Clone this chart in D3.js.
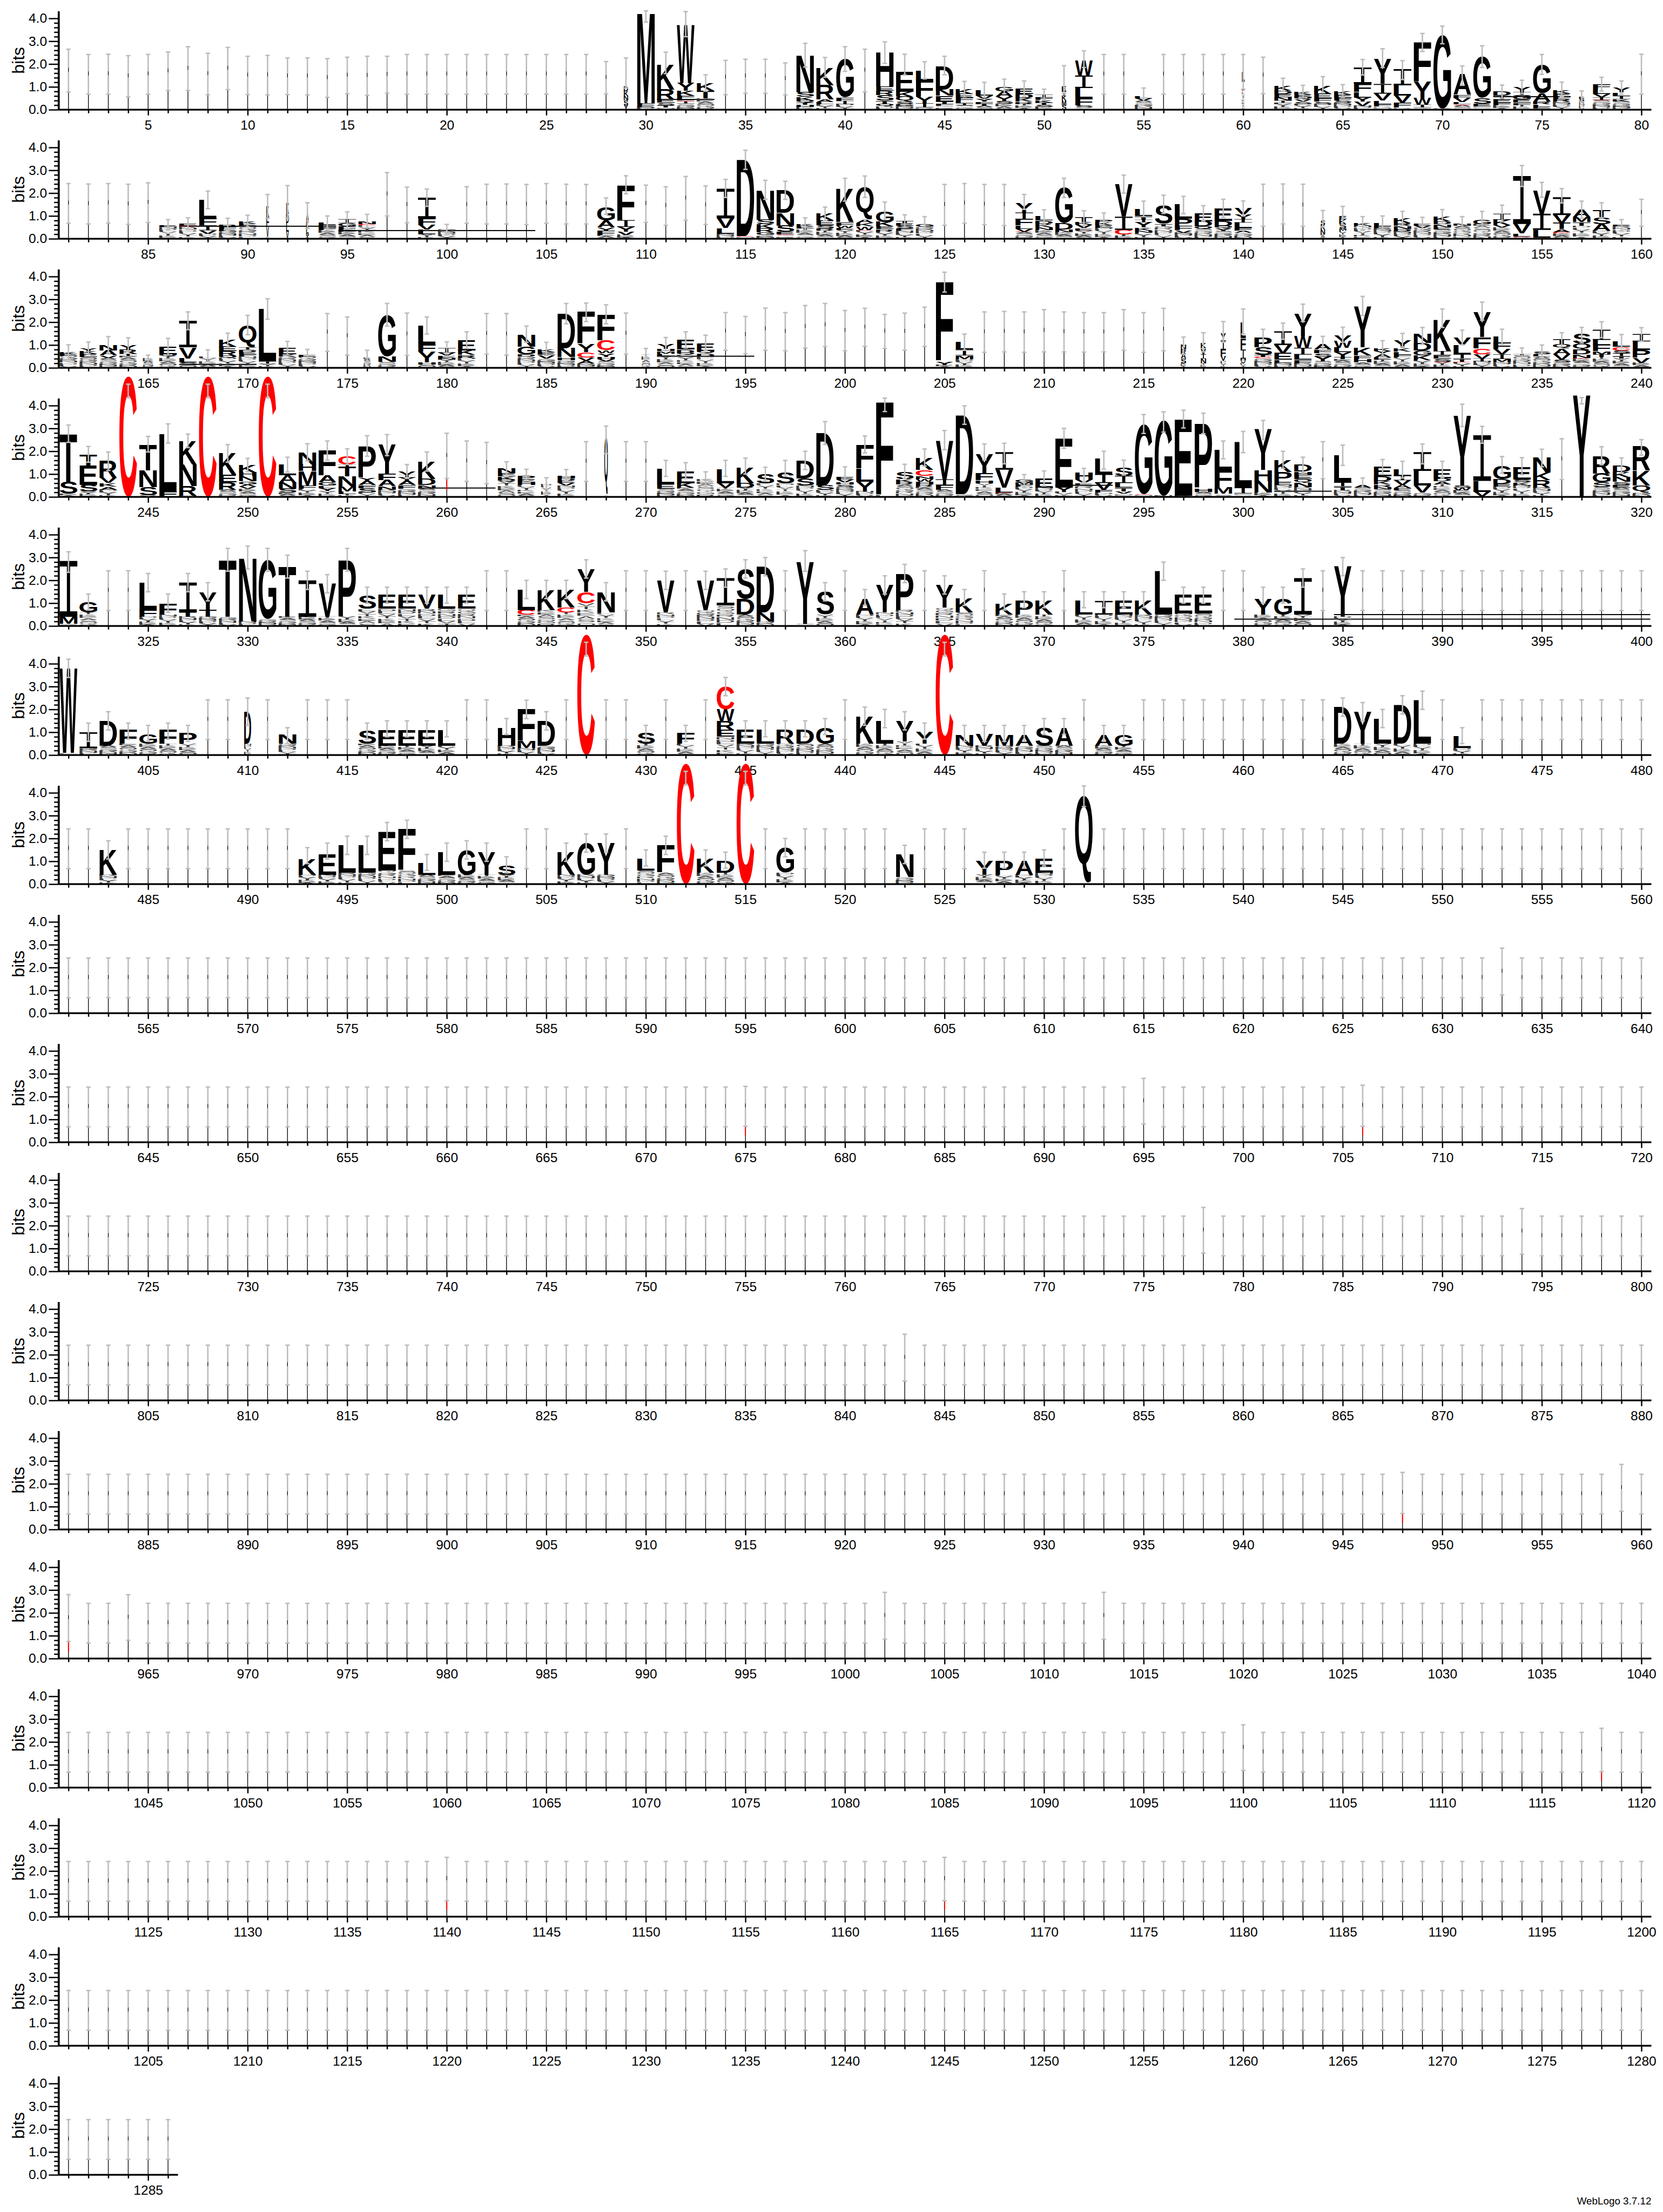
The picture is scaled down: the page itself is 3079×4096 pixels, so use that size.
<!DOCTYPE html>
<html>
<head>
<meta charset="utf-8">
<script src="https://cdn.jsdelivr.net/npm/d3@7"></script>
<style>
  body { margin: 0; background: #fff; }
</style>
</head>
<body>
<div id="logo"></div>
<script>
// ---- data: one string per stack, "pos errLow errHigh letters(top->bottom)"
// letter tokens: X<bits>, "~<bits>" = pile of unreadable tiny letters, "w<frac>" = narrow stack
const row1 = [
  "29 .95 2.27 w.25 D.2 K.2 N.2 S.2 Y.2",
  "30 3.84 4.33 M3.97 F.1 E.08 ~.11",
  "31 1.58 2.52 K1.09 R.44 E.15 S.1 T.1 ~.1",
  "32 3.2 4.3 W2.55 Y.35 K.2 F.12 L.1 C.03 I.1 ~.27",
  "33 .81 1.53 K.32 T.34 ~.5",
  "38 1.87 2.91 N1.63 S.2 K.15 Q.1 T.1 H.08 ~.13",
  "39 1.42 2.29 K.77 R.62 A.12 L.1 ~.23",
  "40 1.68 2.76 G1.68 F.15 I.15 ~.24",
  "42 2.03 2.97 H1.49 E.19 R.18 S.24 T.16 Q.1 ~.14",
  "43 1.52 2.43 E.87 K.2 Q.22 S.1 G.08 ~.18",
  "44 1.35 2.1 L.42 F.74 Y.26 I.19 ~.1",
  "45 1.53 2.34 D1.03 N.26 E.25 T.1 F.1 ~.16",
  "46 .56 1.24 K.2 E.17 F.15 L.1 I.08 ~.2",
  "47 .54 1.2 L.25 V.15 Y.12 F.1 T.08 ~.17",
  "48 .7 1.34 G.19 A.23 Y.19 S.13 ~.26",
  "49 .58 1.26 E.23 D.18 K.15 R.1 ~.25",
  "50 .42 .9 I.12 F.12 K.1 T.1 S.1 ~.12",
  "51 .72 1.93 w.25 E.2 I.2 K.2 M.2 S.2",
  "52 1.85 2.58 W.65 I.55 L.45 F.3 S.1 ~.1",
  "55 .35 .95 L.1 V.1 ~.4",
  "60 .9 2.42 w.15 L.4 I.4 C.06 ~.8",
  "62 .81 1.38 K.22 D.15 E.14 N.15 I.1 ~.3",
  "63 .52 1.07 K.12 E.12 Q.1 V.1 S.1 ~.25",
  "64 .76 1.45 K.37 E.2 F.15 S.1 ~.25",
  "65 .55 1.1 K.15 E.15 F.12 S.1 ~.3",
  "66 1.52 2.2 I.71 F.36 L.25 Y.18 V.17 ~.18",
  "67 1.85 2.67 Y1.1 I.43 V.3 L.15 F.1 ~.15",
  "68 1.32 2.15 I.71 L.45 V.32 F.2 ~.1",
  "69 2.55 3.34 F1.71 Y.72 W.29 I.12 ~.1",
  "70 2.89 3.66 G3.2 ~.06",
  "71 1.07 1.92 A.93 F.15 V.18 L.1 C.03 ~.2",
  "72 1.85 2.8 G1.81 S.25 E.12 ~.15",
  "73 .5 1.08 D.17 I.16 E.15 F.12 ~.18",
  "74 .69 1.29 Y.2 I.15 G.18 E.15 F.1 ~.2",
  "75 1.55 2.42 G1.25 A.36 R.13 L.1 E.08 ~.05",
  "76 .58 1.21 K.16 E.15 F.1 R.12 ~.35",
  "77 .35 .82 w.3 E.1 S.1 ~.38",
  "78 .82 1.42 F.2 L.2 V.15 I.12 C.03 ~.4",
  "79 .68 1.26 Y.2 L.15 I.13 K.1 ~.37"
];
const row2 = [
  "86 .39 .84 E.06 ~.52",
  "87 .42 .92 E.08 C.03 ~.55",
  "88 1.32 2.09 L.81 F.3 I.22 V.15 ~.22",
  "89 .36 .9 R.1 F.1 E.1 ~.33",
  "90 .52 1.03 K.1 E.1 ~.57",
  "91 .9 1.94 w.15 K.45 F.45 V.45 ~.07",
  "92 .9 2.33 w.15 K.5 D.4 L.4 V.3",
  "93 .45 1.58 w.15 A.3 C.05 K.3 L.2 N.1 T.1 Y.05",
  "94 .45 1.0 L.1 E.15 F.1 ~.37",
  "95 .45 1.18 I.16 G.15 F.15 E.1 ~.3",
  "96 .48 1.07 N.13 C.05 ~.6",
  "99 1.42 2.18 I.9 F.3 V.2 L.2 ~.2",
  "100 .19 .63 ~.4",
  "108 1.07 1.79 G.6 A.3 Y.16 F.18 ~.16",
  "109 1.97 2.76 F1.55 I.3 Y.2 V.15 ~.17",
  "114 1.81 2.6 I1.3 V.42 L.25 ~.22",
  "115 3.04 3.88 D3.33 C.03 ~.1",
  "116 1.73 2.56 N1.29 S.2 K.18 R.18 G.12 ~.16",
  "117 1.73 2.52 D1.0 N.55 S.27 E.12 C.03 ~.16",
  "118 .34 .92 K.1 E.1 ~.45",
  "119 .78 1.39 K.3 E.22 S.15 R.1 ~.35",
  "120 1.65 2.65 K1.47 F.15 W.1 E.1 ~.38",
  "121 1.81 2.75 Q1.42 A.15 K.15 W.15 C.03 ~.36",
  "122 .84 1.61 G.46 K.2 E.12 R.1 ~.32",
  "123 .52 1.05 T.1 E.12 S.12 F.1 ~.35",
  "124 .32 .97 G.13 ~.52",
  "129 1.29 1.94 Y.42 I.3 F.26 L.15 V.12 C.02 ~.3",
  "130 .61 1.27 L.19 D.15 K.14 N.13 ~.38",
  "131 1.81 2.65 G1.55 D.27 N.12 ~.29",
  "132 .58 1.23 T.2 K.12 V.15 E.1 C.02 ~.35",
  "133 .53 1.13 P.13 K.12 E.12 ~.48",
  "134 2.0 2.79 V1.42 I.58 C.2 ~.19",
  "135 .97 1.65 L.3 T.15 I.12 Y.23 K.13 N.1 ~.26",
  "136 1.11 1.91 S.8 T.1 ~.55",
  "137 1.1 1.86 L.62 P.33 F.17 V.1 ~.27",
  "138 .78 1.45 E.35 D.23 Q.1 ~.44",
  "139 .94 1.73 E.54 D.23 Q.1 Y.12 ~.33",
  "140 1.0 1.66 V.26 Y.2 I.15 L.23 F.12 A.1 ~.26",
  "144 .52 1.24 w.25 S.2 K.2 N.2 ~.2",
  "145 .61 1.42 w.4 E.15 K.2 S.2 M.1 ~.35",
  "146 .39 .97 K.11 ~.57",
  "147 .42 1.0 L.14 E.1 ~.45",
  "148 .58 1.2 K.2 R.13 N.13 D.1 ~.34",
  "149 .42 .94 E.1 V.1 ~.48",
  "150 .65 1.28 K.2 D.13 N.13 E.1 ~.41",
  "151 .42 .97 N.1 ~.58",
  "152 .52 1.2 G.19 ~.65",
  "153 .74 1.47 I.27 K.23 V.1 ~.5",
  "154 2.29 3.21 I2.1 V.42 L.12 C.03 ~.08",
  "155 1.82 2.47 V1.03 I.71 L.33 ~.06",
  "156 1.57 2.2 I.78 V.36 T.26 A.13 C.06 ~.23",
  "157 .9 1.65 A.32 M.22 T.16 ~.57",
  "158 .92 1.58 T.29 S.29 A.29 ~.36",
  "159 .34 .84 E.06 ~.55"
];
const row3 = [
  "161 .34 1.01 K.08 E.08 ~.52",
  "162 .58 1.13 Y.13 K.12 E.15 ~.47",
  "163 .64 1.37 N.24 A.23 V.1 ~.44",
  "164 .72 1.32 Y.19 R.19 I.1 ~.52",
  "165 .19 .56 w.6 ~.4",
  "166 .57 1.29 E.33 Q.1 ~.5",
  "167 1.67 2.45 I1.16 V.49 L.17 S.1 ~.14",
  "168 .28 .79 ~.5",
  "169 .9 1.52 K.29 E.2 R.2 Q.1 ~.43",
  "170 1.45 2.3 Q.93 I.1 D.1 E.1 F.1 ~.5",
  "171 2.13 3.03 L2.3 I.1 ~.18",
  "172 .57 1.16 E.26 K.1 ~.5",
  "173 .34 .81 E.1 ~.47",
  "176 .22 .77 w.4 ~.45",
  "177 1.83 2.82 G1.81 N.25 ~.26",
  "179 1.48 2.23 L.8 F.3 Y.47 H.1 ~.14",
  "180 .61 1.14 I.2 V.13 E.1 N.07 ~.37",
  "181 .85 1.58 E.45 K.2 R.13 ~.44",
  "184 1.12 1.83 N.52 G.33 D.1 ~.5",
  "185 .54 1.12 K.13 E.13 V.16 ~.41",
  "186 1.93 2.82 D1.52 N.39 H.13 ~.34",
  "187 2.03 2.84 F1.42 Y.35 C.23 V.15 A.12 ~.19",
  "188 1.93 2.76 F1.13 C.42 W.13 Y.16 H.1 V.1 ~.28",
  "190 .38 .85 w.5 ~.6",
  "191 .75 1.33 Y.2 H.1 M.1 L.1 ~.53",
  "192 .87 1.58 E.42 D.13 Q.1 ~.57",
  "193 .75 1.43 E.32 Q.1 D.13 ~.51",
  "205 3.32 4.19 F3.46 Y.15 ~.13",
  "206 .77 1.48 L.32 I.26 M.16 ~.38",
  "217 .6 1.35 w.3 N.2 R.2 A.2 S.2 ~.2",
  "218 .7 1.54 w.3 K.25 V.25 I.2 N.2 ~.2",
  "219 1.12 2.03 w.3 Y.3 I.4 F.3 V.2 ~.3",
  "220 1.48 2.58 w.3 L.7 F.5 I.4 H.1 V.1 ~.2",
  "221 .94 1.69 P.42 S.33 T.1 C.05 ~.42",
  "222 1.25 1.96 I.6 V.36 E.29 L.13 ~.22",
  "223 2.03 2.79 Y1.0 W.5 I.3 L.23 F.15 ~.2",
  "224 .74 1.38 A.23 F.16 S.16 Y.2 ~.28",
  "225 1.12 1.78 V.25 W.3 L.2 Y.2 T.1 ~.38",
  "226 2.29 3.13 Y1.8 K.35 F.16 H.16 ~.23",
  "227 .62 1.19 K.13 Y.13 A.16 E.1 ~.35",
  "228 .92 1.51 Y.32 K.16 L.13 F.1 ~.48",
  "229 1.03 1.77 N.39 D.32 G.23 K.2 ~.34",
  "230 1.77 2.58 K1.39 I.18 E.16 S.13 C.03 ~.24",
  "231 1.01 1.65 V.32 L.4 I.2 T.13 C.03 ~.24",
  "232 2.09 2.88 Y1.1 F.5 C.26 V.18 I.12 ~.29",
  "233 1.03 1.69 L.3 F.26 V.23 I.2 M.13 ~.26",
  "234 .34 .87 I.06 ~.55",
  "235 .48 1.0 S.13 L.1 ~.5",
  "236 .93 1.54 T.2 Q.2 A.25 V.25 S.12 ~.23",
  "237 1.09 1.77 S.42 Q.26 D.2 N.16 C.03 ~.41",
  "238 1.32 2.02 I.45 L.23 F.26 M.13 T.13 ~.47",
  "239 .87 1.46 L.23 C.16 S.13 I.13 T.1 ~.41",
  "240 1.16 1.76 I.32 L.38 P.34 V.22 ~.22"
];
const row4 = [
  "241 2.39 3.15 T2.13 S.52 ~.13",
  "242 1.52 2.21 T.5 E.84 S.3 ~.23",
  "243 1.16 1.97 R.74 V.23 K.16 A.13 ~.32",
  "244 4.34 4.94 C5.28",
  "245 1.97 2.65 T1.13 N.74 S.36 ~.06",
  "246 2.36 3.2 L2.52 F.25",
  "247 2.16 2.75 K1.03 N.94 R.42 ~.06",
  "248 4.34 4.94 C5.28",
  "249 1.52 2.29 K.96 E.33 R.32 ~.32",
  "250 1.1 1.69 K.32 H.17 N.22 G.13 A.1 V.1 ~.35",
  "251 4.34 4.94 C5.28",
  "252 1.09 1.74 L.48 A.32 N.26 S.18 ~.18",
  "253 1.58 2.33 N.52 H.29 M.62 F.16 ~.35",
  "254 1.61 2.45 F1.09 A.29 G.16 L.1 Y.13 ~.26",
  "255 1.42 2.11 C.36 I.1 T.42 N.45 M.2 L.13 ~.12",
  "256 1.78 2.68 P1.39 Y.13 A.19 F.13 S.19 ~.2",
  "257 1.81 2.73 Y1.29 F.26 A.26 N.16 ~.32",
  "258 .81 1.42 V.16 I.1 Y.16 A.19 F.16 ~.36",
  "259 1.13 1.97 K.77 D.26 N.13 ~.39",
  "263 .9 1.54 N.2 E.14 K.13 Q.1 ~.67",
  "264 .71 1.21 P.16 E.14 H.12 ~.52",
  "265 .32 .84 w.6 ~.58",
  "266 .71 1.2 H.13 D.1 E.1 V.12 ~.49",
  "268 1.9 3.1 w.2 Q2.5 ~.1",
  "271 .9 1.6 L.7 E.2 ~.35",
  "272 .8 1.5 E.5 K.2 ~.4",
  "273 .5 1.1 ~.8",
  "274 .9 1.6 L.6 V.2 ~.4",
  "275 1.0 1.7 K.7 D.2 ~.4",
  "276 .7 1.3 S.4 ~.6",
  "277 .9 1.6 S.5 ~.6",
  "278 1.2 2.0 D.8 S.3 ~.5",
  "279 2.3 3.3 D2.3 S.2 ~.3",
  "280 .57 1.32 E.13 V.13 H.1 S.1 ~.44",
  "281 1.93 2.67 F1.05 L.57 Y.42 ~.25",
  "282 3.74 4.33 F4.1 ~.06",
  "283 .8 1.43 S.32 K.13 R.1 ~.54",
  "284 1.35 2.1 K.52 C.26 N.13 W.12 H.12 R.1 ~.45",
  "285 2.07 2.91 V1.71 I.25 F.2 ~.32",
  "286 3.18 3.99 D3.46 ~.12",
  "287 1.62 2.32 Y.84 F.3 H.13 ~.6",
  "288 1.45 2.35 I.77 V.78 L.21 C.02 ~.18",
  "289 .41 .98 G.12 M.1 F.1 ~.45",
  "290 .48 1.14 E.39 ~.41",
  "291 2.13 3.0 E2.14 Y.2 ~.21",
  "292 .64 1.25 H.29 V.16 E.1 ~.51",
  "293 1.22 2.0 L.68 I.39 V.29 F.13 ~.19",
  "294 .96 1.61 S.36 I.32 L.2 T.16 V.1 ~.15",
  "295 2.78 3.61 G3.07 C.02 ~.1",
  "296 2.84 3.73 G3.29 ~.06",
  "297 3.02 3.8 E3.33 ~.06",
  "298 2.77 3.67 P2.84 H.16 ~.22",
  "299 1.67 2.45 L.87 F.78 M.26 ~.15",
  "300 1.94 2.87 L2.01 I.26 ~.15",
  "301 2.51 3.35 Y1.79 H.49 N.51 ~.19",
  "302 1.25 2.0 K.53 P.42 E.15 ~.52",
  "303 1.06 1.74 D.29 H.16 E.17 Q.16 N.19 ~.44",
  "305 1.38 2.27 L1.19 I.19 T.16 ~.29",
  "306 .25 .83 A.13 ~.41",
  "307 .99 1.64 E.42 D.2 K.16 R.1 N.1 ~.34",
  "308 .83 1.56 L.26 I.2 V.2 A.15 F.1 ~.28",
  "309 1.45 2.32 I.82 L.64 V.3 ~.2",
  "310 .83 1.56 E.39 D.12 A.13 ~.55",
  "311 3.08 4.06 Y3.05 S.1 W.12 ~.29",
  "312 2.35 3.09 I2.0 L.48 V.2 ~.02",
  "313 1.04 1.77 G.58 D.2 E.12 ~.45",
  "314 .98 1.72 E.55 S.13 K.13 ~.51",
  "315 1.32 2.09 N.68 K.33 R.32 ~.41",
  "317 4.08 4.35 Y4.45",
  "318 1.41 2.2 R.77 G.39 S.22 ~.42",
  "319 1.03 1.71 D.26 K.23 N.2 S.13 E.13 ~.4",
  "320 1.83 2.51 R1.06 K.65 Q.32 ~.19"
];
const row5 = [
  "321 2.35 3.25 I2.45 M.3 ~.1", "322 .7 1.4 G.45 ~.6", "325 1.5 2.3 L1.2 F.3 ~.4",
  "326 .6 1.4 F.5 ~.5", "327 1.5 2.3 I1.3 T.2 ~.4", "328 1.1 1.9 Y.8 T.3 ~.4",
  "329 2.4 3.4 T2.5 ~.4", "330 2.5 3.5 N2.8 ~.2", "331 2.4 3.4 G2.6 ~.3",
  "332 2.1 3.1 T2.2 ~.4", "333 1.6 2.4 I1.6 ~.4", "334 1.45 2.25 V1.45 ~.4",
  "335 2.4 3.4 P2.5 ~.4", "336 1.0 1.7 S.6 ~.75", "337 1.0 1.7 E.6 ~.75",
  "338 1.0 1.7 E.6 ~.75", "339 1.0 1.7 V.6 ~.75", "340 1.0 1.7 L.6 ~.75",
  "341 1.0 1.7 E.6 ~.75", "344 1.2 2.0 L.9 C.2 ~.5", "345 1.2 2.0 K.9 ~.7",
  "346 1.2 2.0 K.8 C.2 ~.6", "347 2.1 2.9 Y1.0 C.5 ~1.0", "348 1.1 1.9 N.9 ~.6",
  "351 1.6 2.4 V1.4 ~.6", "353 1.6 2.4 V1.3 ~.7", "354 1.7 2.5 I1.2 ~.9",
  "355 2.1 2.9 S1.3 D.7 ~.5", "356 2.2 3.0 D2.0 N.4 ~.2", "358 2.4 3.3 Y2.7 ~.1",
  "359 1.1 1.9 S1.0 ~.5", "361 .9 1.6 A.7 ~.5", "362 1.4 2.2 Y1.2 ~.6",
  "363 1.9 2.7 P1.6 ~.7", "365 1.4 2.2 Y1.0 ~.8", "366 .9 1.6 K.6 ~.6",
  "368 .7 1.4 K.5 ~.5", "369 .8 1.5 P.6 ~.5", "370 .8 1.5 K.6 ~.5",
  "372 .8 1.5 L.6 ~.5", "373 .8 1.5 I.6 ~.5", "374 .8 1.5 E.6 ~.5",
  "375 .8 1.5 K.6 ~.5", "376 2.0 2.8 L1.9 ~.5", "377 1.0 1.7 E.8 ~.55",
  "378 1.0 1.7 E.8 ~.55", "381 1.0 1.7 Y.7 ~.5", "382 1.0 1.7 G.7 ~.5",
  "383 1.7 2.5 I1.6 ~.5", "385 2.2 3.0 Y2.2 ~.4"
];
const row6 = [
  "401 3.4 4.2 W3.7 ~.1", "402 .6 1.4 I.7 ~.3", "403 1.1 1.9 D1.1 ~.4",
  "404 .7 1.4 F.6 ~.5", "405 .6 1.3 G.4 ~.5", "406 .7 1.4 F.6 ~.5",
  "407 .6 1.3 P.5 ~.5", "410 1.3 2.5 w.4 D1.4 ~.5", "412 .5 1.2 N.4 ~.5",
  "416 .7 1.4 S.6 ~.5", "417 .8 1.5 E.7 ~.4", "418 .8 1.5 E.7 ~.4",
  "419 .8 1.5 E.7 ~.4", "420 .8 1.5 L.7 ~.4", "423 .9 1.6 H.8 ~.4",
  "424 1.6 2.4 F1.4 M.3 ~.3", "425 1.1 1.9 D1.1 ~.4", "427 4.34 4.94 C5.28",
  "430 .6 1.3 S.5 ~.5", "432 .6 1.3 F.5 ~.5", "434 2.6 3.4 C1.0 W.5 R.4 E.3 ~.8",
  "435 .8 1.5 E.6 ~.5", "436 .8 1.5 L.6 ~.5", "437 .8 1.5 R.6 ~.5",
  "438 .8 1.5 D.6 ~.5", "439 .9 1.6 G.7 ~.5", "441 1.3 2.1 K1.2 ~.5",
  "442 1.2 2.0 L1.0 ~.5", "443 1.1 1.9 Y.9 ~.6", "444 .7 1.4 Y.5 ~.5",
  "445 4.34 4.94 C5.28", "446 .6 1.3 N.5 ~.4", "447 .6 1.3 V.5 ~.4",
  "448 .6 1.3 M.5 ~.4", "449 .6 1.3 A.5 ~.4", "450 .9 1.6 S.8 ~.4",
  "451 .9 1.6 A.8 ~.4", "453 .6 1.3 A.5 ~.4", "454 .6 1.3 G.5 ~.4",
  "465 1.7 2.5 D1.6 ~.5", "466 1.5 2.3 Y1.4 ~.5", "467 1.2 2.0 L1.1 ~.5",
  "468 1.8 2.6 D1.7 ~.5", "469 2.0 2.8 L1.9 ~.5", "471 .5 1.2 L.5 ~.3"
];
const row7 = [
  "483 1.1 1.9 K1.1 ~.4", "493 .9 1.6 K.7 ~.4", "494 1.1 1.8 E.9 ~.4",
  "495 1.3 2.1 L1.2 ~.5", "496 1.3 2.1 L1.2 ~.5", "497 1.9 2.7 E1.7 ~.6",
  "498 2.0 2.8 F1.8 ~.6", "499 .6 1.3 L.5 ~.4", "500 1.0 1.8 L1.0 ~.4",
  "501 1.1 1.9 G1.1 ~.4", "502 1.0 1.8 Y1.0 ~.4", "503 .5 1.2 S.4 ~.4",
  "506 1.0 1.8 K1.0 ~.4", "507 1.4 2.2 G1.4 ~.4", "508 1.4 2.2 Y1.4 ~.4",
  "510 .8 1.5 L.5 ~.6", "511 1.3 2.1 F1.2 ~.5", "512 4.34 4.94 C5.28",
  "513 .8 1.5 K.6 ~.5", "514 .7 1.4 D.5 ~.5", "515 4.34 4.94 C5.28",
  "517 1.2 2.0 G1.1 ~.5", "523 .9 1.7 N1.0 ~.3", "527 .7 1.4 Y.6 ~.4",
  "528 .7 1.4 P.6 ~.4", "529 .7 1.4 A.6 ~.4", "530 .8 1.5 E.6 ~.5",
  "532 3.4 4.3 Q3.8 ~.05"
];
// error bars of the gap-dominated (thin) columns, "pos low high [r = red sliver]"
const gapBars = [
  "1 .78 2.65", "2 .68 2.42", "3 .68 2.43", "4 .56 2.37", "5 .68 2.42", "6 .84 2.53",
  "7 .84 2.76", "8 .66 2.47", "9 .88 2.73", "10 .66 2.34", "11 .65 2.38", "12 .66 2.27",
  "13 .65 2.27", "14 .54 2.24", "15 .7 2.3", "16 .63 2.34", "17 .73 2.34", "28 .69 2.11",
  "34 .66 2.16", "35 .72 2.21", "36 .72 2.21", "37 .65 2.05", "41 .78 2.65", "61 .7 2.3",
  "80 .68 2.43", "81 .68 2.42", "82 .65 2.4", "83 .69 2.42", "84 .63 2.39", "85 .71 2.45",
  "97 1.0 2.9", "98 .7 2.26", "101 .68 2.28", "102 .65 2.39", "103 .65 2.4", "104 .62 2.38",
  "105 .68 2.42", "106 .65 2.39", "107 .65 2.38", "110 .72 2.35", "111 .59 2.28",
  "112 .81 2.73", "113 .63 2.32", "125 .59 2.38", "126 .68 2.42", "127 .62 2.38",
  "128 .58 2.38", "141 .55 2.39", "142 .65 2.4", "143 .55 2.39", "160 .55 1.73",
  "174 .72 2.38", "175 .56 2.23", "178 .55 2.4", "182 .6 2.38", "183 .56 2.38",
  "189 .6 2.4", "194 .77 2.42", "195 .62 2.25", "196 .77 2.62", "197 .75 2.42",
  "198 .87 2.73", "199 .93 2.82", "200 .75 2.51", "201 .94 2.61", "202 .85 2.34",
  "203 .77 2.4", "204 .94 2.66", "207 .68 2.45", "208 .7 2.47", "209 .68 2.45",
  "210 .7 2.55", "211 .7 2.45", "212 .69 2.42", "213 .7 2.42", "214 .77 2.55",
  "215 .68 2.42", "216 .75 2.61", "260 .81 2.79 r", "261 .68 2.45", "262 .58 2.39",
  "304 .8 2.42", "316 .76 2.55",
  "633 .8 2.85", "675 .7 2.45 r", "695 .8 2.8", "706 .7 2.5 r", "778 .8 2.8",
  "794 .75 2.75", "843 .85 2.9", "948 .7 2.5 r", "959 .8 2.85", "961 .75 2.8 r",
  "964 .8 2.8", "1002 .85 2.9", "1013 .85 2.9", "1100 .75 2.75", "1118 .7 2.6 r",
  "1140 .7 2.6 r", "1165 .7 2.6 r"
];
const gapDefault = [0.68, 2.42];
// flattened glyph streaks, [fromPos, toPos, bits]
const flatLines = [
  [31, 33, 0.45], [73, 76, 0.57], [87, 94, 0.55], [95, 104, 0.36],
  [167, 170, 0.15], [191, 195, 0.51], [259, 262, 0.39], [291, 293, 0.51], [302, 304, 0.25],
  [380, 400, 0.3], [385, 400, 0.5]
];
const residueGlyphs = "SAEKTVLDNRGQ";
const nPositions = 1286, perRow = 80;

// ---- layout (reference pixels, scaled by the viewBox)
const W = 3758, H = 5000;
const axisX = 132, colW = 45, glyphW = 40, bitPx = 51.6;
const firstBase = 248, rowStep = 291.75, yMax = 4.32;
const font = "'Liberation Sans', Arial, Helvetica, sans-serif";

const svg = d3.select("#logo").append("svg")
  .attr("width", 3079).attr("height", 4096)
  .attr("viewBox", `0 0 ${W} ${H}`);

const ctx = document.createElement("canvas").getContext("2d");
const inkCache = {};
function ink(ch, weight) {
  const key = ch + weight;
  if (!inkCache[key]) {
    ctx.font = `${weight} 100px ${font}`;
    const m = ctx.measureText(ch);
    inkCache[key] = { l: m.actualBoundingBoxLeft, r: m.actualBoundingBoxRight,
                      a: m.actualBoundingBoxAscent, d: m.actualBoundingBoxDescent };
  }
  return inkCache[key];
}

function parse(s) {
  const t = s.trim().split(/\s+/);
  const d = { pos: +t[0], lo: +t[1], hi: +t[2], w: 1, letters: [] };
  t.slice(3).forEach(k => {
    const c = k[0], v = +k.slice(1);
    if (c === "w") d.w = v; else d.letters.push({ ch: c, h: v });
  });
  return d;
}
const stacks = new Map();
[row1, row2, row3, row4, row5, row6, row7].flat().map(parse).forEach(d => stacks.set(d.pos, d));
const gaps = new Map(gapBars.map(s => {
  const t = s.split(" ");
  return [+t[0], { lo: +t[1], hi: +t[2], red: t[3] === "r" }];
}));

const yb = d3.scaleLinear().domain([0, yMax]).range([0, -yMax * bitPx]);

function drawGlyph(g, ch, x0, yTop, w, h, small) {
  if (h <= 0.001) return;
  const fill = ch === "C" ? "#ff0000" : (small ? "#3a3a3a" : "#000");
  if (ch === "I" && !small) {
    const t = h * 0.1, sw = w * 0.18;
    g.append("path").attr("fill", fill)
      .attr("d", `M${x0},${yTop}h${w}v${t}h${-(w - sw) / 2}v${h - 2 * t}h${(w - sw) / 2}v${t}h${-w}v${-t}h${(w - sw) / 2}v${-(h - 2 * t)}h${-(w - sw) / 2}z`);
    return;
  }
  const weight = small ? "normal" : "bold";
  const b = ink(ch, weight);
  g.append("text").text(ch)
    .attr("font-family", font).attr("font-weight", weight).attr("font-size", 100)
    .attr("fill", fill)
    .attr("transform", `translate(${x0},${yTop}) scale(${w / (b.l + b.r)},${h / (b.a + b.d)}) translate(${b.l},${b.a})`);
}

const nRows = Math.ceil(nPositions / perRow);
for (let r = 0; r < nRows; r++) {
  const start = r * perRow + 1, end = Math.min(start + perRow - 1, nPositions);
  const base = firstBase + r * rowStep;
  const g = svg.append("g").attr("transform", `translate(0,${base})`);
  const x = d3.scaleLinear().domain([start - 0.5, start - 0.5 + perRow]).range([axisX, axisX + perRow * colW]);
  const gLetters = g.append("g"), gBars = g.append("g");

  // flat streaks
  flatLines.filter(f => f[0] >= start && f[0] <= end).forEach(f => {
    gLetters.append("rect").attr("x", x(f[0]) - glyphW / 2).attr("width", x(f[1]) - x(f[0]) + glyphW)
      .attr("y", yb(f[2]) - 1.2).attr("height", 2.4).attr("fill", "#000");
  });

  for (let p = start; p <= end; p++) {
    const cx = x(p);
    let lo, hi;
    if (stacks.has(p)) {
      const d = stacks.get(p);
      lo = d.lo; hi = d.hi;
      const w = glyphW * d.w;
      let acc = 0;
      d.letters.slice().reverse().forEach(L => {
        if (L.ch === "~") {
          const k = Math.max(1, Math.min(7, Math.round(L.h / 0.06)));
          for (let j = 0; j < k; j++) {
            const hh = L.h / k;
            drawGlyph(gLetters, residueGlyphs[(p + j) % residueGlyphs.length], cx - w / 2, yb(acc + hh * 0.9), w, -yb(hh) * 0.8, true);
            acc += hh;
          }
        } else {
          drawGlyph(gLetters, L.ch, cx - w / 2, yb(acc + L.h), w, -yb(L.h), false);
          acc += L.h;
        }
      });
      gBars.append("line").attr("x1", cx).attr("x2", cx).attr("y1", yb(lo)).attr("y2", yb(hi));
    } else {
      const gb = gaps.get(p) || { lo: gapDefault[0], hi: gapDefault[1], red: false };
      lo = gb.lo; hi = gb.hi;
      const mid = (lo + hi) / 2;
      gLetters.append("rect").attr("x", cx - 0.8).attr("width", 1.6)
        .attr("y", yb(mid + 0.13)).attr("height", -yb(mid + 0.13)).attr("fill", "#000");
      if (gb.red) {
        gLetters.append("rect").attr("x", cx - 1.2).attr("width", 2.4)
          .attr("y", yb(0.75)).attr("height", yb(0.3) - yb(0.75)).attr("fill", "#ff0000");
      }
      gBars.append("line").attr("x1", cx).attr("x2", cx).attr("y1", yb(lo)).attr("y2", yb(mid - 0.05));
      gBars.append("line").attr("x1", cx).attr("x2", cx).attr("y1", yb(mid + 0.13)).attr("y2", yb(hi));
    }
    [lo, hi].forEach(v => gBars.append("line").attr("x1", cx - 5).attr("x2", cx + 5).attr("y1", yb(v)).attr("y2", yb(v)));
  }
  gBars.selectAll("line").attr("stroke", "#bdbdbd").attr("stroke-width", 3.2);

  // x axis
  const xa = g.append("g").call(d3.axisBottom(x).tickValues(d3.range(start, end + 1))
    .tickSize(8).tickSizeOuter(0).tickFormat(d => d % 5 === 0 ? d : ""));
  xa.select(".domain").remove();
  xa.selectAll(".tick line").attr("stroke-width", 3).attr("y2", d => d % 5 === 0 ? 13 : 8);
  xa.selectAll(".tick text").attr("y", 45).attr("dy", null)
    .attr("font-size", 30).attr("font-family", font).attr("fill", "#000");
  g.append("line").attr("x1", axisX).attr("x2", x(end + 0.5)).attr("y1", 0).attr("y2", 0)
    .attr("stroke", "#000").attr("stroke-width", 4);

  // y axis
  const ya = g.append("g").attr("transform", `translate(${axisX},0)`)
    .call(d3.axisLeft(yb).tickValues(d3.range(0, 21).map(i => i * 0.2)).tickSize(10).tickSizeOuter(0)
      .tickFormat(d => Math.abs(d - Math.round(d)) < 1e-6 ? d3.format(".1f")(d) : ""));
  ya.select(".domain").attr("stroke-width", 4.5);
  ya.selectAll(".tick line").attr("stroke-width", 3)
    .attr("x2", d => Math.abs(d - Math.round(d)) < 1e-6 ? -22 : -10);
  ya.selectAll(".tick text").attr("x", -26).attr("font-size", 30).attr("font-family", font).attr("fill", "#000");
  g.append("text").text("bits").attr("font-family", font).attr("font-size", 39)
    .attr("text-anchor", "middle")
    .attr("transform", `translate(55,${yb(yMax / 2)}) rotate(-90)`);
}

svg.append("text").text("WebLogo 3.7.12").attr("x", 3732).attr("y", 4983)
  .attr("text-anchor", "end").attr("font-family", font).attr("font-size", 23);
</script>
</body>
</html>
